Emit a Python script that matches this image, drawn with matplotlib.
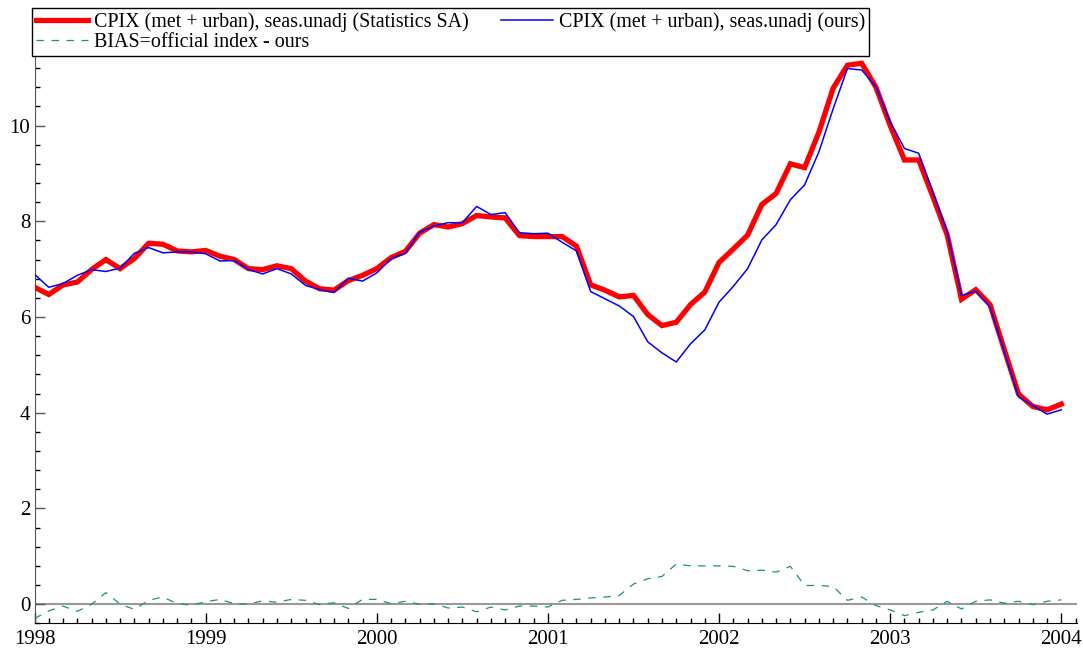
import numpy as np
import matplotlib
matplotlib.use("Agg")
import matplotlib.pyplot as plt
from matplotlib.ticker import MultipleLocator

plt.rcParams['font.family'] = ['Liberation Serif', 'DejaVu Serif']

# monthly, 1998-01 .. 2004-01
start_year = 1998
official = [6.62, 6.47, 6.67, 6.73, 6.99, 7.20, 7.01, 7.22, 7.54, 7.52, 7.38, 7.36,
            7.39, 7.27, 7.20, 7.01, 6.99, 7.07, 7.01, 6.75, 6.59, 6.56, 6.76, 6.87,
            7.01, 7.24, 7.37, 7.75, 7.93, 7.88, 7.95, 8.12, 8.09, 8.07, 7.70, 7.68,
            7.68, 7.68, 7.48, 6.67, 6.56, 6.42, 6.45, 6.05, 5.82, 5.89, 6.26, 6.52,
            7.14, 7.42, 7.71, 8.35, 8.58, 9.20, 9.12, 9.86, 10.78, 11.26, 11.30, 10.80,
            10.00, 9.28, 9.28, 8.51, 7.71, 6.37, 6.57, 6.26, 5.32, 4.39, 4.13, 4.06,
            4.18]
ours = [6.89, 6.62, 6.70, 6.87, 6.99, 6.95, 7.02, 7.33, 7.45, 7.34, 7.36, 7.36,
        7.32, 7.17, 7.18, 6.99, 6.90, 7.01, 6.90, 6.66, 6.57, 6.51, 6.81, 6.75,
        6.92, 7.22, 7.33, 7.77, 7.90, 7.97, 7.97, 8.31, 8.14, 8.18, 7.76, 7.74,
        7.75, 7.56, 7.38, 6.53, 6.38, 6.23, 6.01, 5.48, 5.25, 5.06, 5.44, 5.73,
        6.31, 6.64, 7.01, 7.61, 7.93, 8.45, 8.76, 9.45, 10.35, 11.19, 11.16, 10.81,
        10.08, 9.52, 9.42, 8.61, 7.77, 6.45, 6.54, 6.21, 5.27, 4.33, 4.15, 3.97,
        4.06]
bias = [-0.30, -0.14, -0.04, -0.15, 0.00, 0.24, 0.00, -0.11, 0.08, 0.15, 0.01, -0.02,
        0.05, 0.10, 0.01, 0.00, 0.07, 0.04, 0.10, 0.08, -0.01, 0.03, -0.09, 0.10,
        0.10, 0.01, 0.06, 0.00, 0.01, -0.08, -0.06, -0.16, -0.06, -0.12, -0.04, -0.04,
        -0.06, 0.08, 0.10, 0.13, 0.15, 0.18, 0.42, 0.53, 0.58, 0.84, 0.80, 0.80,
        0.80, 0.79, 0.70, 0.71, 0.67, 0.79, 0.39, 0.39, 0.37, 0.08, 0.15, -0.03,
        -0.12, -0.24, -0.17, -0.12, 0.06, -0.10, 0.06, 0.09, 0.02, 0.06, -0.01, 0.06,
        0.09]
labels = ["CPIX (met + urban), seas.unadj (Statistics SA)",
          "CPIX (met + urban), seas.unadj (ours)",
          "BIAS=official index - ours"]

t = start_year + np.arange(len(official)) / 12.0

fig = plt.figure(figsize=(10.83, 6.52), dpi=100)
ax = fig.add_axes([0.0319, 0.044, 0.9623, 0.8736])

ax.axhline(0, color='#999999', lw=1.5, zorder=1)
l1, = ax.plot(t, official, color='#ff0000', lw=3.8, solid_joinstyle='miter', zorder=3)
l2, = ax.plot(t, ours, color='#0000ff', lw=1.1, zorder=4)
l3, = ax.plot(t, bias, color='#1a8f8f', lw=0.9, dashes=(6, 6), zorder=2)

ax.set_xlim(1998, 2004.09)
ax.set_ylim(-0.4, 11.5)
ax.xaxis.set_major_locator(MultipleLocator(1))
ax.xaxis.set_minor_locator(MultipleLocator(1 / 12))
ax.yaxis.set_major_locator(MultipleLocator(2))
ax.yaxis.set_minor_locator(MultipleLocator(0.4))
ax.xaxis.set_major_formatter(plt.FuncFormatter(lambda v, p: f"{int(round(v))}"))

for s in ['top', 'right']:
    ax.spines[s].set_visible(False)
ax.spines['left'].set_color('#555555')
ax.spines['bottom'].set_color('black')
ax.tick_params(which='major', direction='in', length=7, width=1, labelsize=15, pad=3)
ax.tick_params(axis='x', which='major', pad=5)
ax.tick_params(which='minor', direction='in', length=3.5, width=1)
ax.tick_params(axis='y', colors='#555555', labelcolor='black')

# column-major fill: official + bias in col 1, ours in col 2
fig.legend([l1, l3, l2], [labels[0], labels[2], labels[1]], ncol=2, loc='upper left',
           bbox_to_anchor=(32 / 1083, 1 - 8 / 652), borderaxespad=0,
           fontsize=14.4, handlelength=2.6, handletextpad=0.3, columnspacing=1.6,
           borderpad=0.2, labelspacing=0.05, fancybox=False, framealpha=1,
           edgecolor='black')

fig.savefig('out.png', dpi=100)
